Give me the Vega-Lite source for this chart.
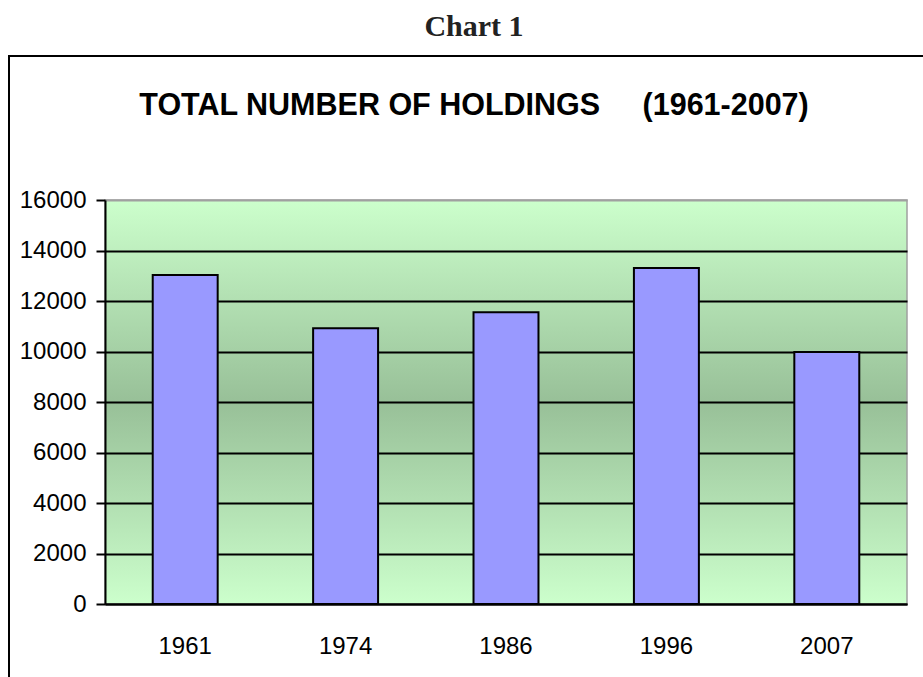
{
  "$schema": "https://vega.github.io/schema/vega-lite/v6.json",
  "width": 802,
  "height": 404,
  "autosize": "none",
  "padding": {"left": 105, "top": 200, "right": 16, "bottom": 73},
  "background": "white",
  "title": {
    "text": "Chart 1",
    "subtitle": "TOTAL NUMBER OF HOLDINGS\u00a0\u00a0\u00a0\u00a0\u00a0(1961-2007)",
    "anchor": "middle",
    "frame": "group",
    "font": "Liberation Serif",
    "fontSize": 30,
    "fontWeight": "bold",
    "color": "#222222",
    "subtitleFont": "Liberation Sans",
    "subtitleFontSize": 30.5,
    "subtitleFontWeight": "bold",
    "subtitleColor": "black",
    "subtitlePadding": 49,
    "offset": -66,
    "dx": -32
  },
  "view": {
    "fill": {
      "gradient": "linear",
      "x1": 0, "y1": 0, "x2": 0, "y2": 1,
      "stops": [
        {"offset": 0, "color": "#CCFFCC"},
        {"offset": 0.5, "color": "#98C098"},
        {"offset": 1, "color": "#CCFFCC"}
      ]
    },
    "stroke": "#a0a0a0",
    "strokeWidth": 1.5
  },
  "config": {
    "axis": {
      "labelFont": "Liberation Sans",
      "labelColor": "black",
      "domainColor": "black",
      "domainWidth": 2,
      "title": null
    }
  },
  "layer": [
    {
      "data": {"values": [{"frame": "outer"}]},
      "mark": {"type": "rect", "fill": null, "stroke": "black", "strokeWidth": 2, "clip": false},
      "encoding": {
        "x": {"value": -96},
        "x2": {"value": 830},
        "y": {"value": -144},
        "y2": {"value": 490}
      }
    },
    {
      "data": {
        "values": [
          {"year": "1961", "holdings": 13030},
          {"year": "1974", "holdings": 10920},
          {"year": "1986", "holdings": 11550},
          {"year": "1996", "holdings": 13310},
          {"year": "2007", "holdings": 9980}
        ]
      },
      "mark": {"type": "bar", "fill": "#9999FF", "stroke": "black", "strokeWidth": 2},
      "encoding": {
        "x": {
          "field": "year",
          "type": "nominal",
          "sort": null,
          "scale": {"paddingInner": 0.595, "paddingOuter": 0.2975},
          "axis": {
            "labelAngle": 0,
            "labelFontSize": 24,
            "ticks": false,
            "tickSize": 0,
            "labelPadding": 30,
            "grid": false
          }
        },
        "y": {
          "field": "holdings",
          "type": "quantitative",
          "scale": {"domain": [0, 16000], "nice": false},
          "axis": {
            "values": [0, 2000, 4000, 6000, 8000, 10000, 12000, 14000, 16000],
            "format": "d",
            "labelFontSize": 24,
            "tickColor": "black",
            "tickWidth": 2,
            "tickSize": 9,
            "labelPadding": 10,
            "grid": true,
            "gridColor": {"condition": {"test": "datum.value === 16000", "value": "#a0a0a0"}, "value": "black"},
            "gridWidth": 2,
            "gridOpacity": 1
          }
        }
      }
    }
  ]
}
